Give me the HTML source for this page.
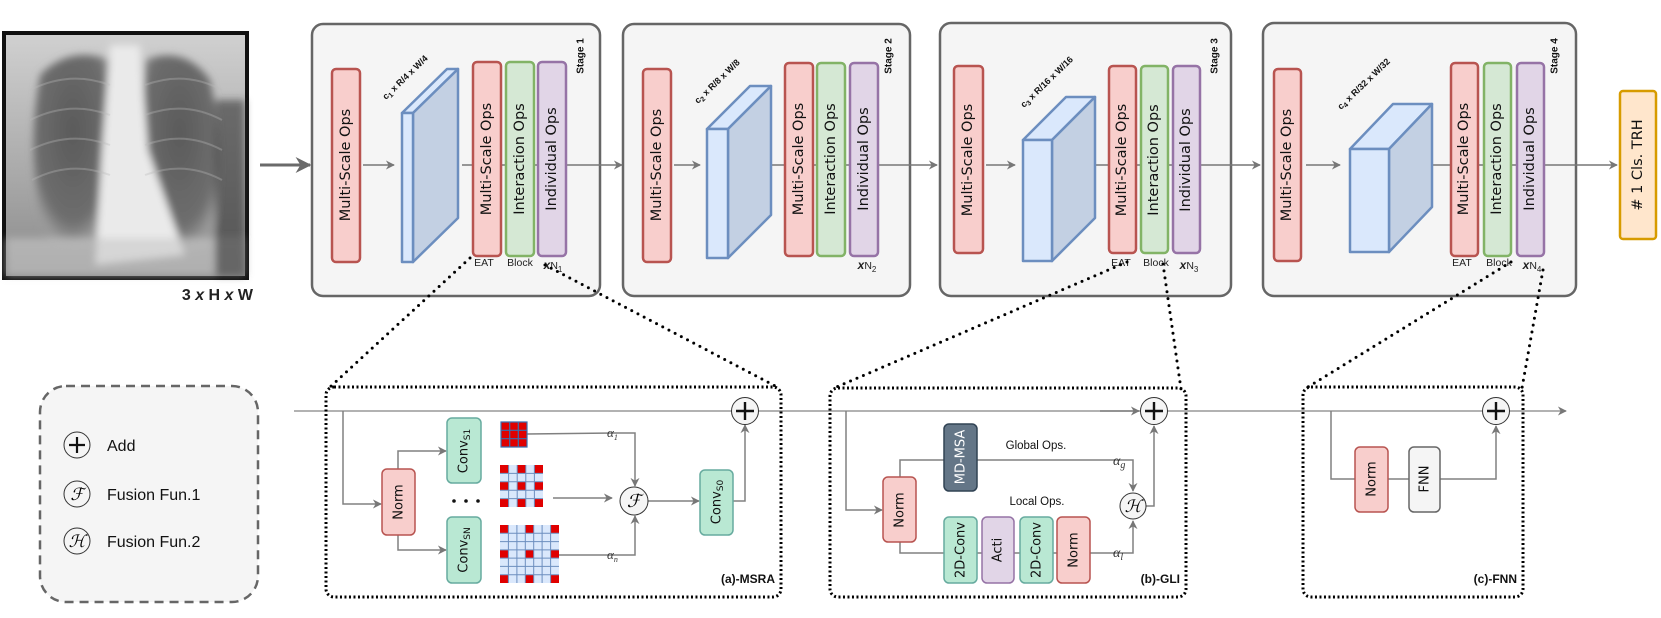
<!DOCTYPE html>
<html><head><meta charset="utf-8"><style>
html,body{margin:0;padding:0;background:#fff;}
svg{display:block;font-family:"DejaVu Sans","Liberation Sans",sans-serif;}
.b{font-family:"Liberation Sans",sans-serif;font-weight:bold;}
</style></head><body>
<svg width="1661" height="618" viewBox="0 0 1661 618" xmlns="http://www.w3.org/2000/svg">
<defs>
<marker id="ar" viewBox="0 0 10 10" refX="9" refY="5" markerWidth="9" markerHeight="9" markerUnits="userSpaceOnUse" orient="auto"><path d="M0,0 L10,5 L0,10 L3,5z" fill="#777"/></marker>
<marker id="arB" viewBox="0 0 10 10" refX="9" refY="5" markerWidth="16" markerHeight="16" markerUnits="userSpaceOnUse" orient="auto"><path d="M0,0 L10,5 L0,10 L3,5z" fill="#6a6a6a"/></marker>
<radialGradient id="lungL" cx="0.5" cy="0.4" r="0.6"><stop offset="0" stop-color="#5a5a5a"/><stop offset="0.8" stop-color="#6e6e6e"/><stop offset="1" stop-color="#9a9a9a"/></radialGradient>
<linearGradient id="xr" x1="0" x2="0" y1="0" y2="1"><stop offset="0" stop-color="#d0d0d0"/><stop offset="0.6" stop-color="#a8a8a8"/><stop offset="1" stop-color="#8a8a8a"/></linearGradient>
<filter id="blur"><feGaussianBlur stdDeviation="4"/></filter>
</defs>

<!-- X-ray -->
<rect x="2" y="31" width="247" height="249" fill="#111"/>
<rect x="6" y="35" width="239" height="241" fill="url(#xr)"/>
<g filter="url(#blur)">
<path d="M40,75 Q70,45 110,60 L112,230 Q80,255 45,235 Q25,160 40,75z" fill="url(#lungL)"/>
<path d="M145,60 Q185,45 210,80 Q228,160 210,245 Q175,255 148,240 L140,190z" fill="url(#lungL)"/>
<path d="M110,45 L140,45 L148,150 L185,255 L95,265 L102,150z" fill="#eaeaea"/>
<rect x="6" y="238" width="239" height="38" fill="#c8c8c8" opacity="0.6"/>
<rect x="215" y="100" width="30" height="176" fill="#333" opacity="0.6"/>
</g>
<g stroke="#bbb" stroke-width="2" fill="none" opacity="0.35">
<path d="M30,90 Q70,70 110,85"/><path d="M30,120 Q70,100 110,115"/><path d="M30,150 Q70,130 110,145"/><path d="M32,180 Q70,160 110,175"/>
<path d="M145,85 Q185,70 222,90"/><path d="M145,115 Q185,100 222,120"/><path d="M145,145 Q185,130 222,150"/><path d="M145,175 Q185,160 222,180"/>
</g>
<text x="253" y="300" text-anchor="end" class="b" font-size="16" fill="#222">3 <tspan font-style="italic">x</tspan> H <tspan font-style="italic">x</tspan> W</text>
<line x1="260" y1="165" x2="310" y2="165" stroke="#6a6a6a" stroke-width="3" marker-end="url(#arB)"/>

<!-- Stage boxes -->
<g fill="#f5f5f5" stroke="#666" stroke-width="2.5">
<rect x="312" y="24" width="288" height="272" rx="11"/>
<rect x="623" y="24" width="287" height="272" rx="11"/>
<rect x="940" y="23" width="291" height="273" rx="11"/>
<rect x="1263" y="23" width="313" height="273" rx="11"/>
</g>

<g stroke="#777" stroke-width="1.5" fill="none">
<line x1="462" y1="165" x2="622" y2="165" marker-end="url(#ar)"/>
<line x1="772" y1="165" x2="937" y2="165" marker-end="url(#ar)"/>
<line x1="1095" y1="165" x2="1260" y2="165" marker-end="url(#ar)"/>
<line x1="1432" y1="165" x2="1617" y2="165" marker-end="url(#ar)"/>
<line x1="363" y1="165" x2="394" y2="165" marker-end="url(#ar)"/>
<line x1="674" y1="165" x2="700" y2="165" marker-end="url(#ar)"/>
<line x1="986" y1="165" x2="1015" y2="165" marker-end="url(#ar)"/>
<line x1="1306" y1="165" x2="1340" y2="165" marker-end="url(#ar)"/>
</g>

<g stroke="#6c8ebf" stroke-width="2.5" stroke-linejoin="round">
<polygon points="402,113 447,69 458,69 413,113" fill="#dae8fc"/>
<polygon points="413,113 458,69 458,218 413,262" fill="#c3d0e3"/>
<rect x="402" y="113" width="11" height="149" fill="#dae8fc"/>
<polygon points="707,129 750,86 771,86 728,129" fill="#dae8fc"/>
<polygon points="728,129 771,86 771,215 728,258" fill="#c3d0e3"/>
<rect x="707" y="129" width="21" height="129" fill="#dae8fc"/>
<polygon points="1023,140 1066,97 1095,97 1052,140" fill="#dae8fc"/>
<polygon points="1052,140 1095,97 1095,218 1052,261" fill="#c3d0e3"/>
<rect x="1023" y="140" width="29" height="121" fill="#dae8fc"/>
<polygon points="1350,149 1393,104 1432,104 1389,149" fill="#dae8fc"/>
<polygon points="1389,149 1432,104 1432,207 1389,252" fill="#c3d0e3"/>
<rect x="1350" y="149" width="39" height="103" fill="#dae8fc"/>
</g>

<g class="b" font-size="9" fill="#111">
<text transform="translate(386,100) rotate(-44)">c<tspan font-size="7" dy="2">1</tspan><tspan dy="-2"> x R/4 x W/4</tspan></text>
<text transform="translate(698,104) rotate(-44)">c<tspan font-size="7" dy="2">2</tspan><tspan dy="-2"> x R/8 x W/8</tspan></text>
<text transform="translate(1024,108) rotate(-44)">c<tspan font-size="7" dy="2">3</tspan><tspan dy="-2"> x R/16 x W/16</tspan></text>
<text transform="translate(1341,110) rotate(-44)">c<tspan font-size="7" dy="2">4</tspan><tspan dy="-2"> x R/32 x W/32</tspan></text>
</g>

<g stroke-width="2.5">
<g fill="#f8cecc" stroke="#b85450">
<rect x="332" y="69" width="28" height="193" rx="4"/>
<rect x="473" y="62" width="28" height="194" rx="4"/>
<rect x="643" y="69" width="28" height="193" rx="4"/>
<rect x="785" y="63" width="28" height="193" rx="4"/>
<rect x="954" y="66" width="29" height="187" rx="4"/>
<rect x="1109" y="66" width="27" height="187" rx="4"/>
<rect x="1274" y="69" width="27" height="192" rx="4"/>
<rect x="1451" y="63" width="27" height="193" rx="4"/>
</g>
<g fill="#d5e8d4" stroke="#82b366">
<rect x="506" y="62" width="28" height="194" rx="4"/>
<rect x="817" y="63" width="28" height="193" rx="4"/>
<rect x="1141" y="66" width="27" height="187" rx="4"/>
<rect x="1484" y="63" width="27" height="193" rx="4"/>
</g>
<g fill="#e1d5e7" stroke="#9673a6">
<rect x="538" y="62" width="28" height="194" rx="4"/>
<rect x="850" y="63" width="28" height="193" rx="4"/>
<rect x="1173" y="66" width="27" height="187" rx="4"/>
<rect x="1517" y="63" width="27" height="193" rx="4"/>
</g>
</g>
<g font-size="14.5" fill="#111" text-anchor="middle" dominant-baseline="central">
<text transform="translate(346,165) rotate(-90)">Multi-Scale Ops</text>
<text transform="translate(487,159) rotate(-90)">Multi-Scale Ops</text>
<text transform="translate(520,159) rotate(-90)">Interaction Ops</text>
<text transform="translate(552,159) rotate(-90)">Individual Ops</text>
<text transform="translate(657,165) rotate(-90)">Multi-Scale Ops</text>
<text transform="translate(799,159) rotate(-90)">Multi-Scale Ops</text>
<text transform="translate(831,159) rotate(-90)">Interaction Ops</text>
<text transform="translate(864,159) rotate(-90)">Individual Ops</text>
<text transform="translate(968,160) rotate(-90)">Multi-Scale Ops</text>
<text transform="translate(1122,160) rotate(-90)">Multi-Scale Ops</text>
<text transform="translate(1154,160) rotate(-90)">Interaction Ops</text>
<text transform="translate(1186,160) rotate(-90)">Individual Ops</text>
<text transform="translate(1287,165) rotate(-90)">Multi-Scale Ops</text>
<text transform="translate(1464,159) rotate(-90)">Multi-Scale Ops</text>
<text transform="translate(1497,159) rotate(-90)">Interaction Ops</text>
<text transform="translate(1530,159) rotate(-90)">Individual Ops</text>
</g>
<g class="b" font-size="10" fill="#111" text-anchor="middle" dominant-baseline="central">
<text transform="translate(581,56) rotate(-90)">Stage 1</text>
<text transform="translate(889,56) rotate(-90)">Stage 2</text>
<text transform="translate(1215,56) rotate(-90)">Stage 3</text>
<text transform="translate(1555,56) rotate(-90)">Stage 4</text>
</g>
<g font-family="Liberation Sans, sans-serif" font-size="10.5" fill="#222" text-anchor="middle">
<text x="484" y="266">EAT</text><text x="520" y="266">Block</text>
<text x="553" y="269"><tspan class="b" font-style="italic" font-size="12">x</tspan>N<tspan font-size="8" dy="3">1</tspan></text>
<text x="867" y="269"><tspan class="b" font-style="italic" font-size="12">x</tspan>N<tspan font-size="8" dy="3">2</tspan></text>
<text x="1121" y="266">EAT</text><text x="1156" y="266">Block</text>
<text x="1189" y="269"><tspan class="b" font-style="italic" font-size="12">x</tspan>N<tspan font-size="8" dy="3">3</tspan></text>
<text x="1462" y="266">EAT</text><text x="1499" y="266">Block</text>
<text x="1532" y="269"><tspan class="b" font-style="italic" font-size="12">x</tspan>N<tspan font-size="8" dy="3">4</tspan></text>
</g>

<rect x="1620" y="91" width="36" height="148" rx="3" fill="#ffe6cc" stroke="#d79b00" stroke-width="2.5"/>
<text transform="translate(1638,165) rotate(-90)" font-size="14.5" text-anchor="middle" dominant-baseline="central" fill="#111"># 1 Cls. TRH</text>

<g stroke="#000" stroke-width="3" stroke-linecap="round" stroke-dasharray="0 7" fill="none">
<line x1="470" y1="258" x2="329" y2="388"/>
<line x1="545" y1="265" x2="779" y2="388"/>
<line x1="1127" y1="262" x2="832" y2="389"/>
<line x1="1163" y1="264" x2="1181" y2="389"/>
<line x1="1511" y1="262" x2="1308" y2="387"/>
<line x1="1543" y1="270" x2="1522" y2="388"/>
</g>

<rect x="40" y="386" width="218" height="216" rx="26" fill="#f5f5f5" stroke="#666" stroke-width="2.5" stroke-dasharray="9 6"/>
<g stroke="#333" stroke-width="1" fill="#f5f5f5">
<circle cx="77" cy="445" r="13"/><circle cx="77" cy="494" r="13"/><circle cx="77" cy="541" r="13"/>
</g>
<path d="M69,445 H85 M77,437 V453" stroke="#111" stroke-width="2.2"/>
<text x="77" y="500" text-anchor="middle" font-family="Liberation Serif,serif" font-style="italic" font-size="17">ℱ</text>
<text x="77" y="547" text-anchor="middle" font-family="Liberation Serif,serif" font-style="italic" font-size="17">ℋ</text>
<g font-family="Liberation Sans,sans-serif" font-size="16" fill="#111">
<text x="107" y="451">Add</text><text x="107" y="500">Fusion Fun.1</text><text x="107" y="547">Fusion Fun.2</text>
</g>

<line x1="294" y1="411" x2="1566" y2="411" stroke="#999" stroke-width="1.5" marker-end="url(#ar)"/>

<g fill="none" stroke="#000" stroke-width="3" stroke-dasharray="2 2.5">
<rect x="326" y="387" width="455" height="210" rx="8"/>
<rect x="830" y="388" width="356" height="209" rx="8"/>
<rect x="1303" y="387" width="220" height="210" rx="8"/>
</g>

<!-- MSRA -->
<g stroke="#808080" stroke-width="1.5" fill="none">
<polyline points="343,411 343,504 381,504" marker-end="url(#ar)"/>
<polyline points="398,469 398,451 446,451" marker-end="url(#ar)"/>
<polyline points="398,535 398,550 446,550" marker-end="url(#ar)"/>
<polyline points="527,434 614,433 635,433 635,486" marker-end="url(#ar)"/>
<line x1="553" y1="498" x2="612" y2="498" marker-end="url(#ar)"/>
<polyline points="559,555 614,555 635,555 635,516" marker-end="url(#ar)"/>
<line x1="648" y1="501" x2="699" y2="501" marker-end="url(#ar)"/>
<polyline points="733,501 745,501 745,425" marker-end="url(#ar)"/>
</g>
<rect x="382" y="469" width="33" height="66" rx="5" fill="#f8cecc" stroke="#b85450" stroke-width="1.5"/>
<rect x="447" y="418" width="34" height="65" rx="5" fill="#b9e8d3" stroke="#67ab9f" stroke-width="1.5"/>
<rect x="447" y="517" width="34" height="66" rx="5" fill="#b9e8d3" stroke="#67ab9f" stroke-width="1.5"/>
<rect x="700" y="470" width="33" height="65" rx="5" fill="#b9e8d3" stroke="#67ab9f" stroke-width="1.5"/>
<g font-size="13" fill="#111" text-anchor="middle" dominant-baseline="central">
<text transform="translate(399,502) rotate(-90)">Norm</text>
<text transform="translate(464,451) rotate(-90)">Conv<tspan font-size="9" dy="4">S1</tspan></text>
<text transform="translate(464,550) rotate(-90)">Conv<tspan font-size="9" dy="4">SN</tspan></text>
<text transform="translate(717,502) rotate(-90)">Conv<tspan font-size="9" dy="4">S0</tspan></text>
</g>
<g fill="#111"><circle cx="454" cy="501" r="1.8"/><circle cx="466" cy="501" r="1.8"/><circle cx="478" cy="501" r="1.8"/></g>
<rect x="501" y="422" width="26" height="25" fill="#e00000"/>
<path d="M501,422 h26 v25 h-26z M509.7,422 v25 M518.3,422 v25 M501,430.3 h26 M501,438.7 h26" fill="none" stroke="#3a6fb0" stroke-width="1.2"/>
<rect x="500" y="465" width="43" height="42" fill="#dae8fc"/>
<g fill="#e00000">
<rect x="500" y="465" width="8.6" height="8.4"/><rect x="517.2" y="465" width="8.6" height="8.4"/><rect x="534.4" y="465" width="8.6" height="8.4"/>
<rect x="500" y="481.8" width="8.6" height="8.4"/><rect x="517.2" y="481.8" width="8.6" height="8.4"/><rect x="534.4" y="481.8" width="8.6" height="8.4"/>
<rect x="500" y="498.6" width="8.6" height="8.4"/><rect x="517.2" y="498.6" width="8.6" height="8.4"/><rect x="534.4" y="498.6" width="8.6" height="8.4"/>
</g>
<path d="M508.6,465v42M517.2,465v42M525.8,465v42M534.4,465v42M500,473.4h43M500,481.8h43M500,490.2h43M500,498.6h43" stroke="#6c8ebf" stroke-width="1"/>
<rect x="500" y="525" width="59" height="58" fill="#dae8fc"/>
<g fill="#e00000">
<rect x="500" y="525" width="8.4" height="8.3"/><rect x="525.3" y="525" width="8.4" height="8.3"/><rect x="550.6" y="525" width="8.4" height="8.3"/>
<rect x="500" y="549.9" width="8.4" height="8.3"/><rect x="525.3" y="549.9" width="8.4" height="8.3"/><rect x="550.6" y="549.9" width="8.4" height="8.3"/>
<rect x="500" y="574.7" width="8.4" height="8.3"/><rect x="525.3" y="574.7" width="8.4" height="8.3"/><rect x="550.6" y="574.7" width="8.4" height="8.3"/>
</g>
<path d="M508.4,525v58M516.9,525v58M525.3,525v58M533.7,525v58M542.1,525v58M550.6,525v58M500,533.3h59M500,541.6h59M500,549.9h59M500,558.1h59M500,566.4h59M500,574.7h59" stroke="#6c8ebf" stroke-width="1"/>
<g font-family="Liberation Serif,serif" font-style="italic" font-size="13" fill="#333">
<text x="607" y="437">α<tspan font-size="8" dy="3">1</tspan></text>
<text x="607" y="559">α<tspan font-size="8" dy="3">n</tspan></text>
</g>
<circle cx="634" cy="501" r="14" fill="#f5f5f5" stroke="#333"/>
<text x="634" y="507" text-anchor="middle" font-family="Liberation Serif,serif" font-style="italic" font-size="18">ℱ</text>
<circle cx="745" cy="411" r="13.5" fill="#f5f5f5" stroke="#333"/>
<path d="M736,411 H754 M745,402 V420" stroke="#111" stroke-width="2.4"/>
<text x="775" y="583" text-anchor="end" class="b" font-size="12" fill="#111">(a)-MSRA</text>

<!-- GLI -->
<g stroke="#808080" stroke-width="1.5" fill="none">
<polyline points="846,411 846,510 882,510" marker-end="url(#ar)"/>
<polyline points="900,477 900,460 1133,460 1133,491" marker-end="url(#ar)"/>
<polyline points="900,542 900,553 1133,553 1133,521" marker-end="url(#ar)"/>
<polyline points="1146,506 1154,506 1154,426" marker-end="url(#ar)"/>
<line x1="1100" y1="411" x2="1139" y2="411" marker-end="url(#ar)"/>
</g>
<rect x="883" y="477" width="33" height="65" rx="5" fill="#f8cecc" stroke="#b85450" stroke-width="1.5"/>
<rect x="944" y="424" width="33" height="67" rx="5" fill="#647687" stroke="#314354" stroke-width="1.5"/>
<rect x="944" y="517" width="33" height="66" rx="5" fill="#b9e8d3" stroke="#67ab9f" stroke-width="1.5"/>
<rect x="982" y="517" width="32" height="66" rx="5" fill="#e1d5e7" stroke="#9673a6" stroke-width="1.5"/>
<rect x="1020" y="517" width="33" height="66" rx="5" fill="#b9e8d3" stroke="#67ab9f" stroke-width="1.5"/>
<rect x="1057" y="517" width="33" height="66" rx="5" fill="#f8cecc" stroke="#b85450" stroke-width="1.5"/>
<g font-size="13" fill="#111" text-anchor="middle" dominant-baseline="central">
<text transform="translate(900,510) rotate(-90)">Norm</text>
<text transform="translate(961,457) rotate(-90)" fill="#fff">MD-MSA</text>
<text transform="translate(961,550) rotate(-90)">2D-Conv</text>
<text transform="translate(998,550) rotate(-90)">Acti</text>
<text transform="translate(1037,550) rotate(-90)">2D-Conv</text>
<text transform="translate(1074,550) rotate(-90)">Norm</text>
</g>
<g font-family="Liberation Sans,sans-serif" font-size="11.5" fill="#111" text-anchor="middle">
<text x="1036" y="449">Global Ops.</text><text x="1037" y="505">Local Ops.</text>
</g>
<g font-family="Liberation Serif,serif" font-style="italic" font-size="14" fill="#333">
<text x="1113" y="465">α<tspan font-size="10" dy="3">g</tspan></text>
<text x="1113" y="557">α<tspan font-size="10" dy="3">l</tspan></text>
</g>
<circle cx="1133" cy="506" r="13" fill="#f5f5f5" stroke="#333"/>
<text x="1133" y="512" text-anchor="middle" font-family="Liberation Serif,serif" font-style="italic" font-size="17">ℋ</text>
<circle cx="1154" cy="411" r="13.5" fill="#f5f5f5" stroke="#333"/>
<path d="M1145,411 H1163 M1154,402 V420" stroke="#111" stroke-width="2.4"/>
<text x="1180" y="583" text-anchor="end" class="b" font-size="12" fill="#111">(b)-GLI</text>

<!-- FNN -->
<g stroke="#808080" stroke-width="1.5" fill="none">
<polyline points="1331,411 1331,479 1496,479 1496,426" marker-end="url(#ar)"/>
</g>
<rect x="1355" y="447" width="33" height="65" rx="5" fill="#f8cecc" stroke="#b85450" stroke-width="1.5"/>
<rect x="1409" y="447" width="31" height="65" rx="5" fill="#f5f5f5" stroke="#666" stroke-width="1.5"/>
<g font-size="13" fill="#111" text-anchor="middle" dominant-baseline="central">
<text transform="translate(1372,479) rotate(-90)">Norm</text>
<text transform="translate(1425,479) rotate(-90)">FNN</text>
</g>
<circle cx="1496" cy="411" r="13.5" fill="#f5f5f5" stroke="#333"/>
<path d="M1487,411 H1505 M1496,402 V420" stroke="#111" stroke-width="2.4"/>
<text x="1517" y="583" text-anchor="end" class="b" font-size="12" fill="#111">(c)-FNN</text>
</svg>
</body></html>
